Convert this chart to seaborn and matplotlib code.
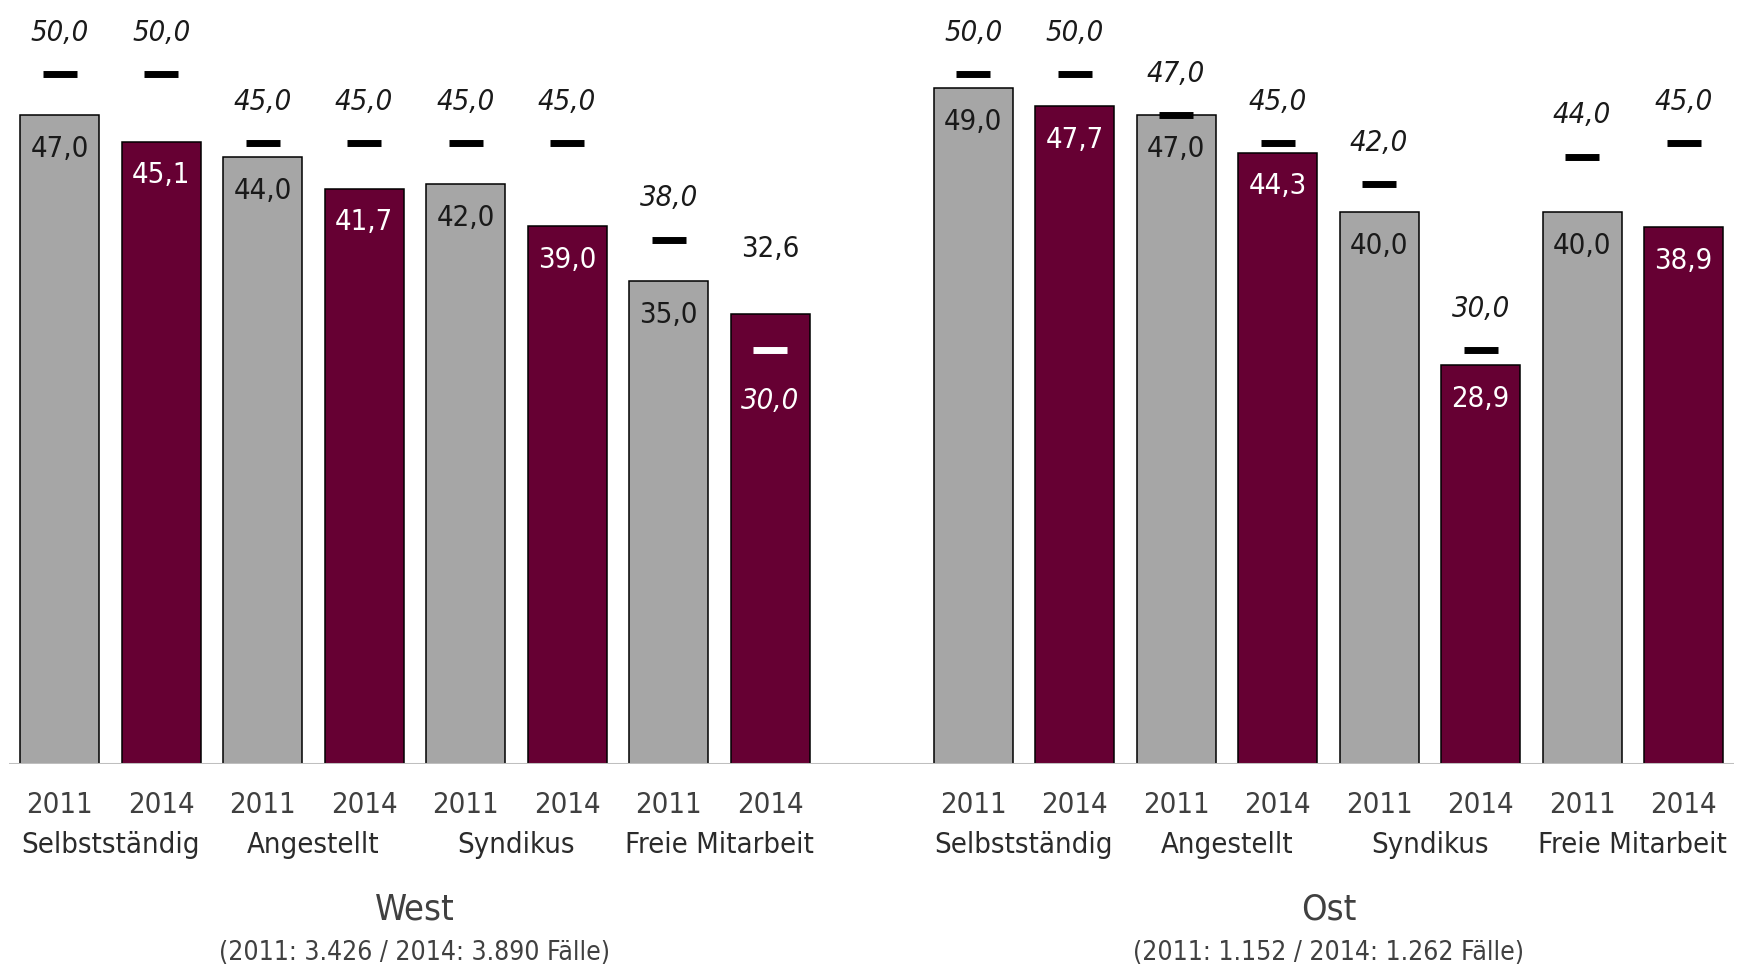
import matplotlib
matplotlib.use("Agg")
import matplotlib.pyplot as plt
import matplotlib.transforms as mtransforms
import numpy as np
import pandas as pd
import seaborn as sns

# data
regionen = ["West", "Ost"]
untertitel = ["(2011: 3.426 / 2014: 3.890 Fälle)", "(2011: 1.152 / 2014: 1.262 Fälle)"]
kategorien = ["Selbstständig", "Angestellt", "Syndikus", "Freie Mitarbeit"]
jahre = ["2011", "2014"]
west_mittel = [47.0, 45.1, 44.0, 41.7, 42.0, 39.0, 35.0, 32.6]
west_median = [50.0, 50.0, 45.0, 45.0, 45.0, 45.0, 38.0, 30.0]
ost_mittel = [49.0, 47.7, 47.0, 44.3, 40.0, 28.9, 40.0, 38.9]
ost_median = [50.0, 50.0, 47.0, 45.0, 42.0, 30.0, 44.0, 45.0]

grau = "#a6a6a6"
bordeaux = "#660033"

rows = []
for region, mittel, median in [("West", west_mittel, west_median), ("Ost", ost_mittel, ost_median)]:
    for i, (m, md) in enumerate(zip(mittel, median)):
        rows.append({"region": region, "kategorie": kategorien[i // 2], "jahr": jahre[i % 2],
                     "slot": f"{region}-{i}", "mittel": m, "median": md})
df = pd.DataFrame(rows)
order = [f"West-{i}" for i in range(8)] + ["gap"] + [f"Ost-{i}" for i in range(8)]
df["pos"] = df["slot"].map({s: k for k, s in enumerate(order)})

plt.rcParams["font.family"] = ["DejaVu Sans"]
plt.rcParams["font.stretch"] = "condensed"

fig = plt.figure(figsize=(17.41, 9.77), dpi=100)
ax = fig.add_axes([0.0051, 1 - 764 / 977, 0.9911, 764 / 977])

sns.barplot(data=df, x="slot", y="mittel", hue="jahr", order=order,
            palette={"2011": grau, "2014": bordeaux}, dodge=False, width=0.776,
            saturation=1, edgecolor="black", linewidth=1.1, legend=False, ax=ax)

ax.set_ylim(0, 764 / 13.8)
ax.set_xlim(-0.5, 16.5)
ax.axhline(0, color="#bfbfbf", lw=2.2, zorder=5)
for s in ax.spines.values():
    s.set_visible(False)
ax.set_yticks([])
ax.set_xticks([])
ax.set_xlabel("")
ax.set_ylabel("")

def fmt(v):
    return f"{v:.1f}".replace(".", ",")

for _, r in df.iterrows():
    x = r["pos"]
    m, md = r["mittel"], r["median"]
    inside_col = "#1a1a1a" if r["jahr"] == "2011" else "white"
    if md < m:
        # median inside the bar: white dash, labels swapped
        ax.plot([x], [md], ls="none", marker="_", markersize=24, mew=5, color="white", zorder=6)
        ax.text(x, md - 3.7, fmt(md), ha="center", va="center", fontsize=21,
                style="italic", color="white", zorder=7)
        ax.text(x, m + 4.75, fmt(m), ha="center", va="center", fontsize=21, color="#1a1a1a")
    else:
        ax.plot([x], [md], ls="none", marker="_", markersize=24, mew=5, color="black", zorder=6)
        ax.text(x, md + 3.0, fmt(md), ha="center", va="center", fontsize=21,
                style="italic", color="#1a1a1a")
        ax.text(x, m - 2.45, fmt(m), ha="center", va="center", fontsize=21,
                color=inside_col, zorder=7)

trans = mtransforms.blended_transform_factory(ax.transData, fig.transFigure)
for _, r in df.iterrows():
    ax.text(r["pos"], 1 - 805 / 977, r["jahr"], transform=trans, ha="center", va="center",
            fontsize=21, color="#404040")

for k, region in enumerate(regionen):
    base = 0 if region == "West" else 9
    for j, kat in enumerate(kategorien):
        ax.text(base + 2 * j + 0.5, 1 - 845 / 977, kat, transform=trans, ha="center",
                va="center", fontsize=21, color="#2b2b2b")
    ax.text(base + 3.5, 1 - 910 / 977, region, transform=trans, ha="center", va="center",
            fontsize=26, color="#404040")
    ax.text(base + 3.5, 1 - 953 / 977, untertitel[k], transform=trans, ha="center",
            va="center", fontsize=19, color="#404040")

fig.savefig("out.png", dpi=100)
